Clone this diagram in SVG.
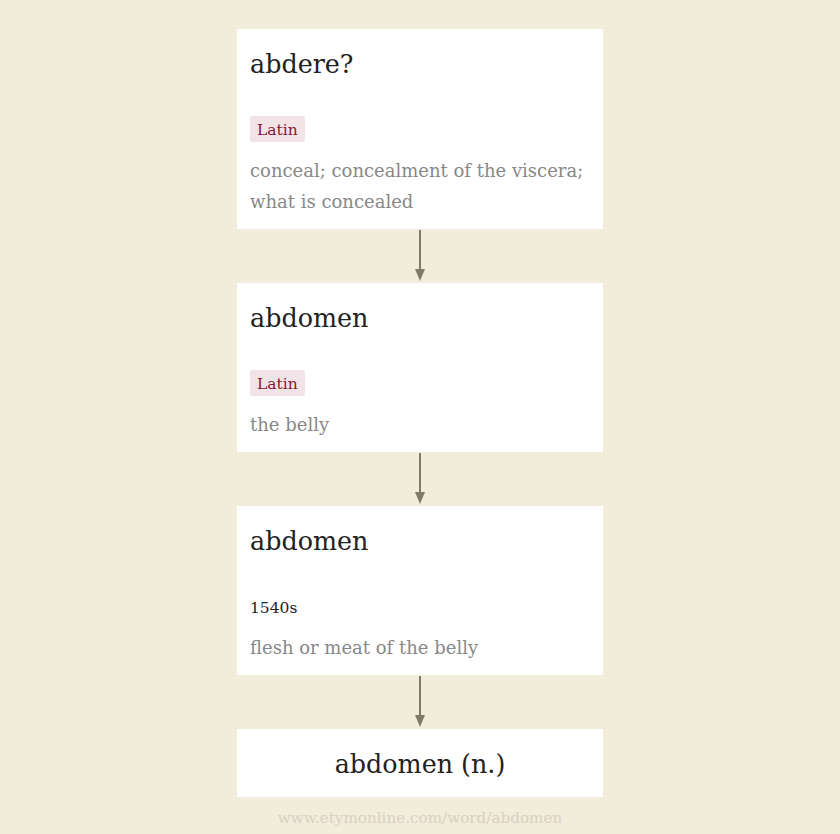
<svg xmlns="http://www.w3.org/2000/svg" width="840" height="834" viewBox="0 0 840 834">
<defs>
<style>
.box{fill:#ffffff}
.title{font-family:"DejaVu Serif","Liberation Serif",serif;font-size:25.4px;fill:#222222}
.desc{font-family:"DejaVu Serif","Liberation Serif",serif;font-size:18px;fill:#888888}
.tag{fill:#f2e4e6}
.tagt{font-family:"DejaVu Serif","Liberation Serif",serif;font-size:15.5px;fill:#8a1530}
.date{font-family:"DejaVu Serif","Liberation Serif",serif;font-size:15.5px;fill:#222222}
.foot{font-family:"DejaVu Serif","Liberation Serif",serif;font-size:15.2px;fill:#d9d1c2}
.conn{stroke:#7f7a6a;stroke-width:2;fill:none}
.head{fill:#7f7a6a}
</style>
</defs>
<rect width="840" height="834" fill="#f2ecdb"/>
<g id="connectors">
<line class="conn" x1="420" y1="230" x2="420" y2="269"/>
<path class="head" d="M415,269 L425,269 L420,281 Z"/>
<line class="conn" x1="420" y1="453" x2="420" y2="492"/>
<path class="head" d="M415,492 L425,492 L420,504 Z"/>
<line class="conn" x1="420" y1="676" x2="420" y2="715"/>
<path class="head" d="M415,715 L425,715 L420,727 Z"/>
</g>
<g id="node-abdere">
<rect class="box" x="237" y="29" width="366" height="200"/>
<text class="title" x="250" y="73">abdere?</text>
<rect class="tag" x="250" y="116" width="55" height="26" rx="2"/>
<text class="tagt" x="257" y="135">Latin</text>
<text class="desc" x="250" y="177">conceal; concealment of the viscera;</text>
<text class="desc" x="250" y="208">what is concealed</text>
</g>
<g id="node-abdomen-latin">
<rect class="box" x="237" y="283" width="366" height="169"/>
<text class="title" x="250" y="327">abdomen</text>
<rect class="tag" x="250" y="370" width="55" height="26" rx="2"/>
<text class="tagt" x="257" y="389">Latin</text>
<text class="desc" x="250" y="431">the belly</text>
</g>
<g id="node-abdomen-1540s">
<rect class="box" x="237" y="506" width="366" height="169"/>
<text class="title" x="250" y="550">abdomen</text>
<text class="date" x="250" y="613">1540s</text>
<text class="desc" x="250" y="654">flesh or meat of the belly</text>
</g>
<g id="node-abdomen-n">
<rect class="box" x="237" y="729" width="366" height="68"/>
<text class="title" x="420" y="773" text-anchor="middle">abdomen (n.)</text>
</g>
<text class="foot" x="420" y="823" text-anchor="middle">www.etymonline.com/word/abdomen</text>
</svg>
